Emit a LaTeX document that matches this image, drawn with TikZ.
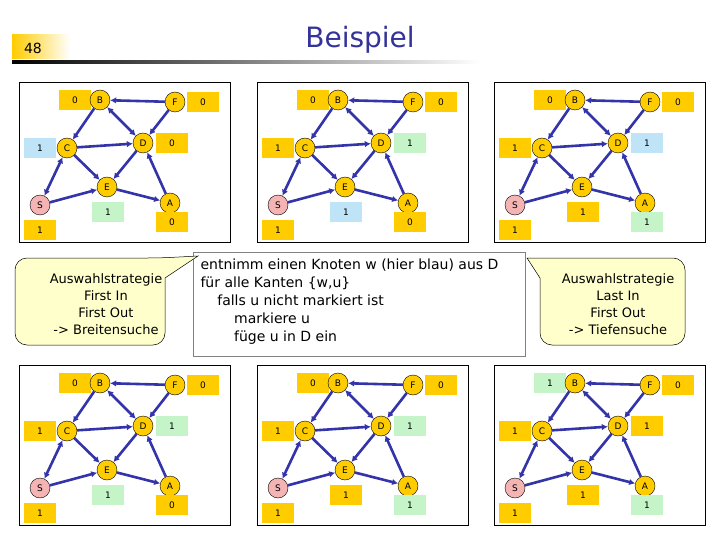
\documentclass[tikz,border=0pt]{standalone}
\usepackage{fontspec}
\setmainfont{DejaVu Sans}
\begin{document}
\begin{tikzpicture}[x=1pt,y=-1pt,
 gn/.style={circle,draw=black,fill=gnode,minimum size=20pt,inner sep=0pt,font=\fontsize{9}{9}\selectfont},
 sn/.style={gn,fill=snode},
 lb/.style={minimum width=32pt,minimum height=20pt,inner sep=0pt,font=\fontsize{9}{9}\selectfont},
 ed/.style={draw=edgec,line width=2.6pt,-{Latex[length=6pt,width=6.5pt]}},
 dd/.style={draw=edgec,line width=2.6pt,{Latex[length=6pt,width=6.5pt]}-{Latex[length=6pt,width=6.5pt]}},
 frame/.style={draw=black,line width=0.8pt},
 call/.style={draw=black,fill=callc,line width=0.5pt},
 txt/.style={font=\fontsize{13}{17}\selectfont,align=center}]
\definecolor{gnode}{HTML}{FFCC00}
\definecolor{snode}{HTML}{F4B4B4}
\definecolor{lo}{HTML}{FFCC00}
\definecolor{lbl}{HTML}{BFE4F8}
\definecolor{lg}{HTML}{C4F4C8}
\definecolor{edgec}{HTML}{3333AA}
\definecolor{callc}{HTML}{FFFFCC}
\definecolor{titlec}{HTML}{333399}
\usetikzlibrary{arrows.meta}
\useasboundingbox (0,0) rectangle (720,540);
\fill[white] (0,0) rectangle (720,540);
% header
\shade[left color=lo,right color=white] (12,35) rectangle (70,59);
\node[font=\fontsize{14}{14}\selectfont] (num) at (33,48) {48};
\node[font=\fontsize{28}{28}\selectfont,text=titlec] (title) at (360,40) {Beispiel};
\shade[left color=black,right color=white] (12,61) rectangle (480,64);
\newcommand{\gpanel}[9]{%
\begin{scope}[shift={(#2-19,#3-82)}]
\draw[frame] (19,82) rectangle (230,242);
\node[lb,fill=#4] (#1lB) at (75,100) {\bt};
\node[gn] (#1B) at (100,100) {B};
\node[gn] (#1F) at (175,102) {F};
\node[gn] (#1C) at (67,148) {C};
\node[gn] (#1D) at (143,143) {D};
\node[gn] (#1E) at (107,187) {E};
\node[sn] (#1S) at (40,205) {S};
\node[gn] (#1A) at (170,203) {A};
\node[lb,fill=lo] (#1lF) at (203,102) {0};
\node[lb,fill=#5] (#1lC) at (40,148) {1};
\node[lb,fill=#6] (#1lD) at (172,143) {#9};
\node[lb,fill=#7] (#1lE) at (108,212) {1};
\node[lb,fill=lo] (#1lS) at (40,230) {1};
\node[lb,fill=#8] (#1lA) at (172,222) {\at};
\draw[ed] (#1F) -- (#1B);
\draw[ed] (#1F) -- (#1D);
\draw[dd] (#1B) -- (#1D);
\draw[ed] (#1B) -- (#1C);
\draw[ed] (#1C) -- (#1D);
\draw[ed] (#1C) -- (#1E);
\draw[ed] (#1D) -- (#1E);
\draw[ed] (#1A) -- (#1D);
\draw[ed] (#1E) -- (#1A);
\draw[ed] (#1S) -- (#1E);
\draw[dd] (#1C) -- (#1S);
\end{scope}}
\def\bt{0}\def\at{0}
\gpanel{a}{19}{82}{lo}{lbl}{lo}{lg}{lo}{0}
\gpanel{b}{257}{82}{lo}{lo}{lg}{lbl}{lo}{1}
\gpanel{d}{19}{365}{lo}{lo}{lg}{lg}{lo}{1}
\def\at{1}
\gpanel{c}{494}{82}{lo}{lo}{lbl}{lo}{lg}{1}
\gpanel{e}{257}{365}{lo}{lo}{lg}{lo}{lg}{1}
\def\bt{1}
\gpanel{f}{494}{365}{lg}{lo}{lo}{lo}{lg}{1}
% middle box
\node[draw=gray,line width=0.8pt,fill=white,minimum width=332pt,minimum height=104pt,anchor=north west] (mid) at (193,252) {};
\node[font=\fontsize{14}{18}\selectfont,align=left,anchor=north west] (midt) at (197,255) {entnimm einen Knoten w (hier blau) aus D\\für alle Kanten \{w,u\}\\\hspace{1.2em}falls u nicht markiert ist\\\hspace{2.4em}markiere u\\\hspace{2.4em}füge u in D ein};
% callouts
\draw[call,rounded corners=12pt] (165,300) -- (165,345) -- (15,345) -- (15,258) -- (160,258) [sharp corners]-- (198,256) -- (165,278) [rounded corners=0pt] -- (165,300);
\node[txt] (lt) at (106,304) {Auswahlstrategie\\First In\\First Out\\-> Breitensuche};
\draw[call,rounded corners=12pt] (540,300) -- (540,345) -- (685,345) -- (685,258) -- (560,258) [sharp corners]-- (527,258) -- (540,278) [rounded corners=0pt] -- (540,300);
\node[txt] (rt) at (618,304) {Auswahlstrategie\\Last In\\First Out\\-> Tiefensuche};
\end{tikzpicture}
\end{document}
